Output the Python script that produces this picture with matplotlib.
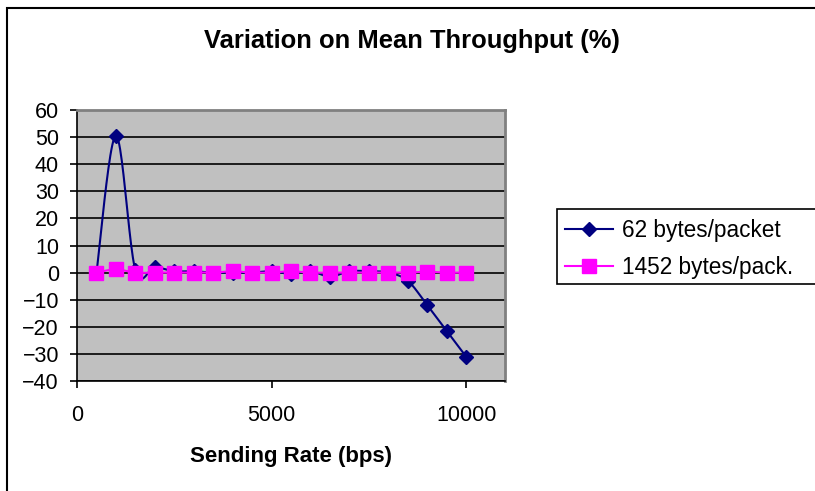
import numpy as np
import matplotlib
matplotlib.use("Agg")
from matplotlib import pyplot as plt
from matplotlib.patches import Rectangle
from matplotlib.lines import Line2D

plt.rcParams['font.family'] = ['Liberation Sans', 'DejaVu Sans']

rates = [500, 1000, 1500, 2000, 2500, 3000, 3500, 4000, 4500, 5000,
         5500, 6000, 6500, 7000, 7500, 8000, 8500, 9000, 9500, 10000]
small_pkt = [0, 50.5, 1, 2, 0.5, 0.5, 0, 0, 0, 0.5,
             -0.5, 0.5, -1.5, 0.5, 0.5, 0, -3, -12, -21.5, -31]
large_pkt = [0, 1.2, 0, 0, 0, 0, 0, 0.5, 0, 0,
             0.5, 0, 0, 0, 0, 0, 0, 0.3, 0, 0]

W, H = 815, 491


def smooth(xs, ys, steps=24):
    # Excel style smoothed line: Catmull-Rom segments as Bezier curves
    xs = np.asarray(xs, float)
    ys = np.asarray(ys, float)
    px = np.concatenate([[xs[0]], xs, [xs[-1]]])
    py = np.concatenate([[ys[0]], ys, [ys[-1]]])
    t = np.linspace(0, 1, steps)
    outx, outy = [], []
    for i in range(1, len(px) - 2):
        p0 = np.array([px[i], py[i]])
        p3 = np.array([px[i + 1], py[i + 1]])
        c1 = p0 + (p3 - np.array([px[i - 1], py[i - 1]])) / 6.0
        c2 = p3 - (np.array([px[i + 2], py[i + 2]]) - p0) / 6.0
        b = ((1 - t) ** 3)[:, None] * p0 + (3 * (1 - t) ** 2 * t)[:, None] * c1 \
            + (3 * (1 - t) * t ** 2)[:, None] * c2 + (t ** 3)[:, None] * p3
        outx.extend(b[:, 0])
        outy.extend(b[:, 1])
    return outx, outy


fig = plt.figure(figsize=(W / 100, H / 100), dpi=100)
ax = fig.add_axes([77 / W, 1 - 381 / H, (505 - 77) / W, (381 - 110) / H])
ax.set_facecolor('#C0C0C0')

sx, sy = smooth(rates, small_pkt)
ax.plot(sx, sy, color='#000080', linewidth=1.5, zorder=3)
ax.plot(rates, small_pkt, linestyle='none', marker='D', markersize=7.5,
        color='#000080', zorder=4)
lx, ly = smooth(rates, large_pkt)
ax.plot(lx, ly, color='#FF00FF', linewidth=1.5, zorder=5)
ax.plot(rates, large_pkt, linestyle='none', marker='s', markersize=9.5,
        color='#FF00FF', zorder=6)

ax.set_xlim(0, 11000)
ax.set_ylim(-40, 60)
ax.set_xticks([0, 5000, 10000])
ax.set_yticks(range(-40, 61, 10))
ax.yaxis.grid(True, color='black', linewidth=1.2)
ax.set_axisbelow(True)
ax.tick_params(axis='both', labelsize=15.5, direction='out', length=5, width=1.2)
ax.tick_params(axis='y', pad=8)
ax.tick_params(axis='x', pad=12)
for side in ['top', 'right']:
    ax.spines[side].set_color('#808080')
    ax.spines[side].set_linewidth(2)
for side in ['left', 'bottom']:
    ax.spines[side].set_color('black')
    ax.spines[side].set_linewidth(1.2)

ax.set_xlabel('Sending Rate (bps)', fontsize=16, fontweight='bold', labelpad=15)
fig.text(0.505, 1 - 41 / H, 'Variation on Mean Throughput (%)', fontsize=18.4,
         fontweight='bold', ha='center', va='center')

# legend box runs off the right edge like the original
fig.patches.append(Rectangle((557 / W, 1 - 284 / H), 300 / W, 75 / H,
                             transform=fig.transFigure, facecolor='white',
                             edgecolor='black', linewidth=1.2, zorder=1))
handles = [Line2D([], [], color='#000080', marker='D', markersize=7, linewidth=1.5),
           Line2D([], [], color='#FF00FF', marker='s', markersize=9.5, linewidth=1.5)]
fig.legend(handles, ['62 bytes/packet', '1452 bytes/pack.'], loc='upper left',
           bbox_to_anchor=(565 / W, 1 - 219 / H), frameon=False, fontsize=16.3,
           handlelength=2.1, handletextpad=0.42, labelspacing=0.62,
           borderpad=0, borderaxespad=0)

# outer chart border
fig.patches.append(Rectangle((7 / W, -0.1), 1.2, 1 - 8 / H + 0.1,
                             transform=fig.transFigure, facecolor='none',
                             edgecolor='black', linewidth=1.5, zorder=0))

fig.savefig('out.png', dpi=100)
